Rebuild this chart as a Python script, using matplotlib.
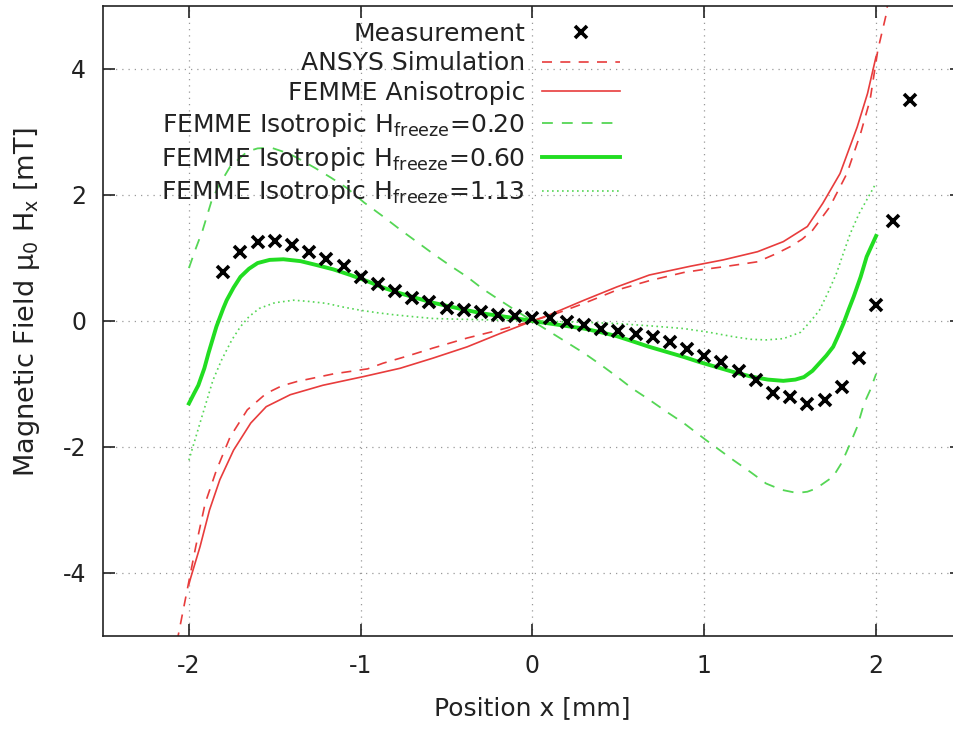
import matplotlib
matplotlib.use("Agg")
import matplotlib.pyplot as plt

plt.rcParams["axes.unicode_minus"] = False

# measurement points
meas_x = [-1.8, -1.7, -1.6, -1.5, -1.4, -1.3, -1.2, -1.1, -1.0, -0.9, -0.8, -0.7, -0.6, -0.5,
          -0.4, -0.3, -0.2, -0.1, 0.0, 0.1, 0.2, 0.3, 0.4, 0.5, 0.6, 0.7, 0.8, 0.9, 1.0, 1.1,
          1.2, 1.3, 1.4, 1.5, 1.6, 1.7, 1.8, 1.9, 2.0, 2.1, 2.2]
meas_y = [0.77, 1.10, 1.25, 1.27, 1.20, 1.10, 0.98, 0.88, 0.70, 0.59, 0.48, 0.37, 0.30, 0.20,
          0.17, 0.15, 0.10, 0.08, 0.04, 0.04, -0.01, -0.07, -0.12, -0.16, -0.20, -0.26, -0.34, -0.44, -0.56, -0.65,
          -0.80, -0.94, -1.14, -1.21, -1.31, -1.26, -1.04, -0.58, 0.25, 1.59, 3.51]

# ANSYS simulation
ansys_x = [-2.07, -2.06, -2.01, -1.96, -1.905, -1.84, -1.76, -1.66, -1.55, -1.46, -1.37, -1.16, -0.96,
           -0.87, -0.72, -0.58, -0.38, -0.19, 0.0, 0.15, 0.30, 0.49, 0.68, 0.88, 1.0, 1.11, 1.31,
           1.42, 1.50, 1.57, 1.63, 1.73, 1.83, 1.91, 1.965, 2.01, 2.06, 2.07]
ansys_y = [-5.1, -4.96, -4.27, -3.58, -2.89, -2.37, -1.84, -1.41, -1.15, -1.03, -0.96, -0.84, -0.76,
           -0.67, -0.55, -0.43, -0.27, -0.14, 0.0, 0.13, 0.28, 0.49, 0.64, 0.77, 0.82, 0.86, 0.94,
           1.07, 1.18, 1.30, 1.44, 1.81, 2.34, 2.98, 3.51, 4.30, 4.88, 5.1]

# FEMME anisotropic
aniso_x = [-2.0, -1.99, -1.935, -1.88, -1.82, -1.74, -1.64, -1.55, -1.41, -1.22, -0.98, -0.77,
           -0.58, -0.38, -0.19, 0.0, 0.10, 0.30, 0.49, 0.68, 0.92, 1.11, 1.31, 1.46, 1.60, 1.69,
           1.79, 1.89, 1.95, 2.0]
aniso_y = [-4.18, -4.08, -3.58, -3.0, -2.52, -2.05, -1.62, -1.36, -1.17, -1.02, -0.88, -0.75,
           -0.59, -0.41, -0.20, 0.0, 0.10, 0.33, 0.54, 0.73, 0.87, 0.97, 1.10, 1.26, 1.50, 1.87,
           2.34, 3.08, 3.61, 4.20]

# FEMME isotropic, H_freeze = 0.20
iso020_x = [-2.0, -1.96, -1.92, -1.87, -1.83, -1.76, -1.66, -1.60, -1.52, -1.42, -1.35, -1.26,
            -1.17, -1.08, -0.98, -0.93, -0.87, -0.77, -0.67, -0.58, -0.48, -0.38, -0.29, -0.19,
            -0.10, 0.0, 0.10, 0.20, 0.30, 0.40, 0.49, 0.58, 0.68, 0.78, 0.88, 1.01, 1.17, 1.27,
            1.36, 1.45, 1.54, 1.60, 1.65, 1.75, 1.80, 1.85, 1.89, 1.93, 1.965, 2.0]
iso020_y = [0.84, 1.15, 1.44, 1.89, 2.13, 2.45, 2.69, 2.74, 2.75, 2.66, 2.56, 2.42,
            2.27, 2.11, 1.88, 1.78, 1.66, 1.45, 1.25, 1.07, 0.88, 0.70, 0.51, 0.33,
            0.17, 0.0, -0.17, -0.34, -0.51, -0.70, -0.88, -1.07, -1.25, -1.44, -1.62, -1.89, -2.21, -2.40,
            -2.58, -2.68, -2.73, -2.71, -2.66, -2.47, -2.25, -1.94, -1.68, -1.31, -1.10, -0.84]

# FEMME isotropic, H_freeze = 0.60
iso060_x = [-2.0, -1.97, -1.945, -1.91, -1.886, -1.84, -1.80, -1.78, -1.74, -1.70, -1.65, -1.60,
            -1.53, -1.45, -1.35, -1.26, -1.16, -1.06, -0.96, -0.87, -0.77, -0.67, -0.58, -0.48,
            -0.38, -0.29, -0.19, -0.09, 0.0, 0.10, 0.20, 0.30, 0.40, 0.49, 0.58, 0.68, 0.78, 0.88,
            0.97, 1.07, 1.17, 1.27, 1.37, 1.46, 1.53, 1.58, 1.63, 1.67, 1.71, 1.75, 1.78, 1.81,
            1.84, 1.87, 1.91, 1.945, 1.975, 2.0]
iso060_y = [-1.31, -1.15, -1.02, -0.75, -0.51, -0.09, 0.20, 0.33, 0.53, 0.70, 0.83, 0.92,
            0.97, 0.98, 0.95, 0.89, 0.82, 0.73, 0.63, 0.53, 0.44, 0.36, 0.29, 0.23,
            0.17, 0.12, 0.08, 0.04, 0.0, -0.04, -0.08, -0.12, -0.18, -0.24, -0.32, -0.41, -0.49, -0.57,
            -0.65, -0.73, -0.81, -0.88, -0.93, -0.95, -0.93, -0.89, -0.79, -0.67, -0.55, -0.41, -0.23, -0.04,
            0.18, 0.39, 0.70, 1.02, 1.20, 1.35]

# FEMME isotropic, H_freeze = 1.13
iso113_x = [-2.0, -1.93, -1.86, -1.81, -1.75, -1.70, -1.65, -1.59, -1.50, -1.39, -1.30, -1.20,
            -1.10, -1.0, -0.90, -0.81, -0.70, -0.58, -0.45, -0.29, -0.15, 0.0, 0.15, 0.30, 0.49,
            0.70, 0.88, 1.03, 1.17, 1.27, 1.36, 1.46, 1.56, 1.62, 1.67, 1.72, 1.77, 1.81, 1.85,
            1.90, 1.945, 2.0]
iso113_y = [-2.21, -1.57, -0.94, -0.62, -0.30, -0.09, 0.07, 0.20, 0.29, 0.33, 0.31, 0.28,
            0.22, 0.17, 0.13, 0.10, 0.07, 0.04, 0.03, 0.02, 0.01, 0.0, -0.01, -0.02, -0.04,
            -0.08, -0.12, -0.18, -0.25, -0.29, -0.30, -0.28, -0.18, 0.0, 0.17, 0.45, 0.76, 1.08, 1.39,
            1.70, 1.92, 2.19]

x_ticks = [-2, -1, 0, 1, 2]
y_ticks = [-4, -2, 0, 2, 4]

red = "#e83c3c"
green = "#22dd22"
light_green = "#55d655"
ink = "#222222"

fig = plt.figure(figsize=(9.54, 7.29), dpi=100)
ax = fig.add_axes([103 / 954, 93 / 729, 859 / 954, 630 / 729])

ax.plot(meas_x, meas_y, linestyle="none", marker="x", color="black",
        markersize=9, markeredgewidth=2.6, label="Measurement", zorder=5)
ax.plot(ansys_x, ansys_y, color=red, lw=1.2, dashes=(6, 5), label="ANSYS Simulation")
ax.plot(aniso_x, aniso_y, color=red, lw=1.2, label="FEMME Anisotropic")
ax.plot(iso020_x, iso020_y, color=light_green, lw=1.3, dashes=(6, 5),
        label="FEMME Isotropic $\\mathregular{H_{freeze}}$=0.20")
ax.plot(iso060_x, iso060_y, color=green, lw=2.8,
        label="FEMME Isotropic $\\mathregular{H_{freeze}}$=0.60")
ax.plot(iso113_x, iso113_y, color=light_green, lw=1.2, dashes=(1, 2),
        label="FEMME Isotropic $\\mathregular{H_{freeze}}$=1.13")

ax.set_xlim(-2.5, 2.5)
ax.set_ylim(-5, 5)
ax.set_xticks(x_ticks)
ax.set_yticks(y_ticks)
ax.tick_params(direction="in", length=8.5, width=1.2, top=True, right=True,
               labelsize=17, colors=ink)
ax.tick_params(axis="x", pad=13)
ax.tick_params(axis="y", pad=12)
ax.grid(True, color="#999999", lw=0.9, dashes=(1, 4))
for s in ax.spines.values():
    s.set_linewidth(1.2)
    s.set_color(ink)

ax.set_xlabel("Position x [mm]", fontsize=18, color=ink)
ax.set_ylabel("Magnetic Field $\\mathregular{\\mu_0}$ $\\mathregular{H_x}$ [mT]",
              fontsize=19.5, color=ink)
ax.xaxis.set_label_coords(0.5, -0.095)
ax.yaxis.set_label_coords(-0.071, 0.53)

leg = ax.legend(loc="upper right", bbox_to_anchor=(0.616, 0.995), frameon=False,
                markerfirst=False, fontsize=18, borderpad=0, handlelength=3.1,
                handletextpad=0.68, labelspacing=0.23, numpoints=1)
for t in leg.get_texts():
    t.set_color(ink)

fig.savefig("out.png", dpi=100)
